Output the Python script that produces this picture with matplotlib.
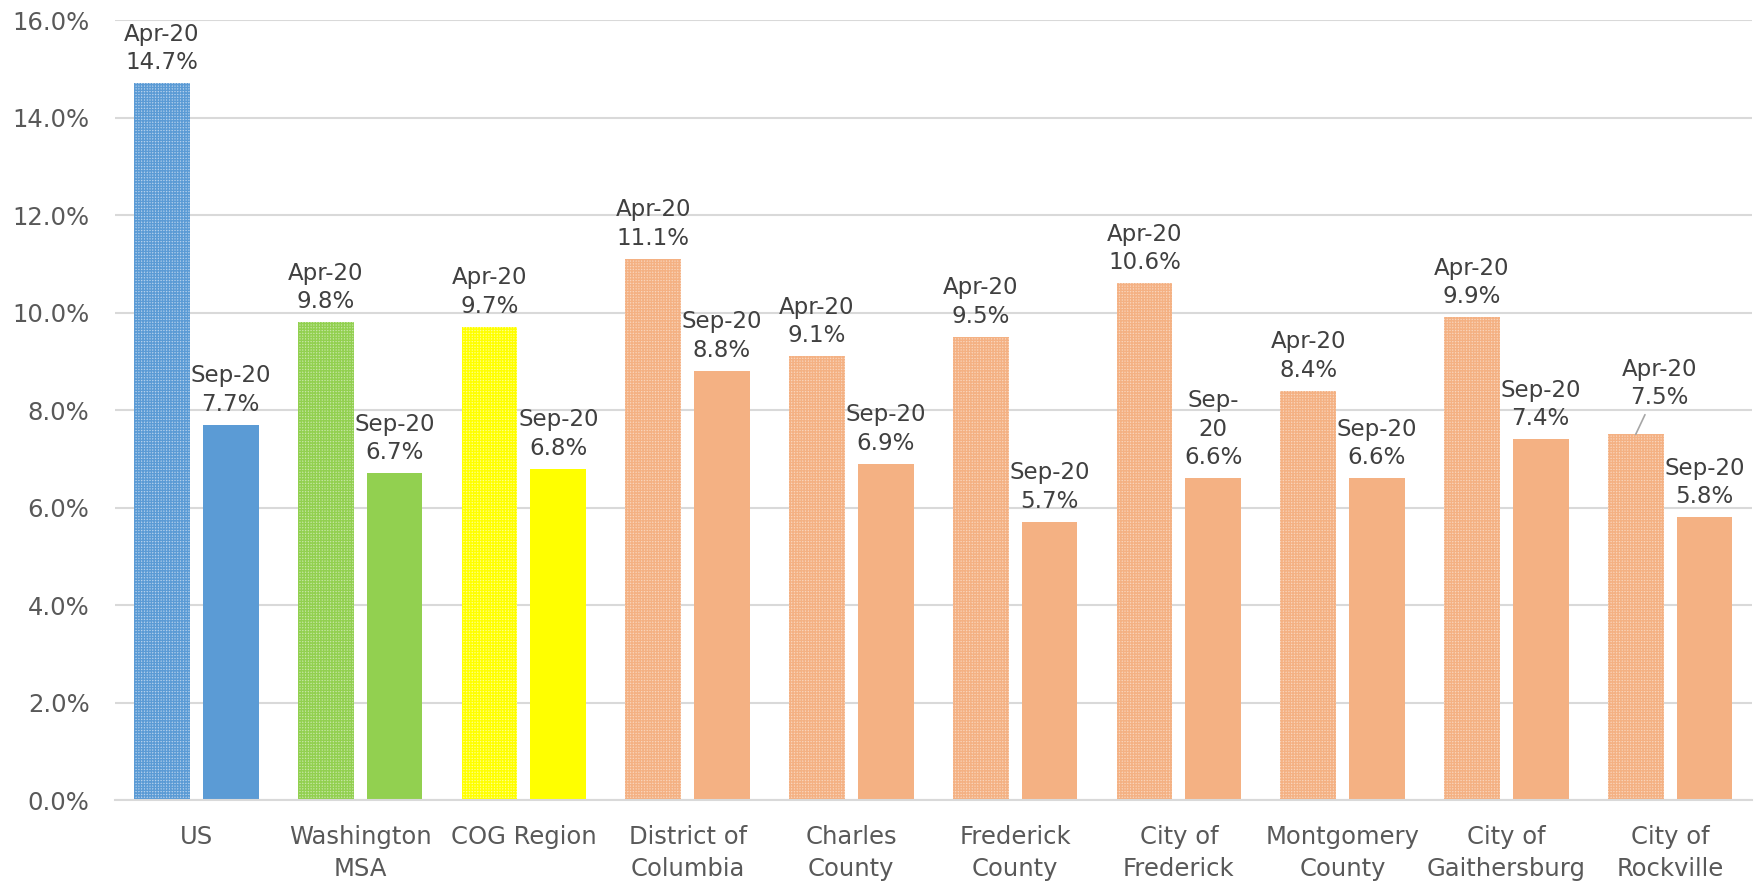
import matplotlib.pyplot as plt
import numpy as np

plt.rcParams['font.family'] = ['DejaVu Sans']
plt.rcParams['hatch.linewidth'] = 1.0

categories = ["US", "Washington\nMSA", "COG Region", "District of\nColumbia", "Charles\nCounty",
              "Frederick\nCounty", "City of\nFrederick", "Montgomery\nCounty", "City of\nGaithersburg",
              "City of\nRockville"]
apr = [14.7, 9.8, 9.7, 11.1, 9.1, 9.5, 10.6, 8.4, 9.9, 7.5]
sep = [7.7, 6.7, 6.8, 8.8, 6.9, 5.7, 6.6, 6.6, 7.4, 5.8]
colors = ["#5B9BD5", "#92D050", "#FFFF00"] + ["#F4B183"] * 7
tints = ["#B4D0EC", "#C6E6A4", "#FFFF90"] + ["#F9D5BC"] * 7

fig = plt.figure(figsize=(17.65, 8.85), dpi=100)
ax = fig.add_axes([0.0649, 0.0960, 0.9277, 0.8814])

x = np.arange(len(categories))
w = 0.34
off = 0.21
txt = "#404040"
fs = 16.5
ls = 1.32

for i in range(len(categories)):
    ax.bar(x[i] - off, apr[i], w, facecolor=tints[i], edgecolor=colors[i],
           hatch="++++++", linewidth=0, zorder=2)
    ax.bar(x[i] + off, sep[i], w, color=colors[i], linewidth=0, zorder=2)

# data labels
for i in range(len(categories)):
    if i == 9:
        ax.annotate("Apr-20\n{:.1f}%".format(apr[i]), (x[i] - off, apr[i]),
                    xytext=(24, 25), textcoords="offset pixels", ha="center", va="bottom",
                    fontsize=fs, color=txt, linespacing=ls,
                    arrowprops=dict(arrowstyle="-", color="#A6A6A6", lw=1.2, shrinkA=2, shrinkB=0))
    else:
        ax.annotate("Apr-20\n{:.1f}%".format(apr[i]), (x[i] - off, apr[i]),
                    xytext=(0, 9), textcoords="offset pixels", ha="center", va="bottom",
                    fontsize=fs, color=txt, linespacing=ls)
    s = "Sep-\n20\n{:.1f}%" if i == 6 else "Sep-20\n{:.1f}%"
    ax.annotate(s.format(sep[i]), (x[i] + off, sep[i]),
                xytext=(0, 9), textcoords="offset pixels", ha="center", va="bottom",
                fontsize=fs, color=txt, linespacing=ls)

ax.set_xlim(-0.5, len(categories) - 0.5)
ax.set_ylim(0, 16)
ax.set_yticks(np.arange(0, 16.1, 2))
ax.set_yticklabels(["{:.1f}%".format(v) for v in np.arange(0, 16.1, 2)], fontsize=17.5)
ax.set_xticks(x)
ax.set_xticklabels(categories, linespacing=1.4, fontsize=17.5)
ax.tick_params(axis="both", length=0, labelcolor="#595959")
ax.tick_params(axis="y", pad=18)
ax.tick_params(axis="x", pad=18)

ax.grid(axis="y", color="#D9D9D9", linewidth=1.5, zorder=0)
ax.set_axisbelow(True)
for s in ["top", "right", "left"]:
    ax.spines[s].set_visible(False)
ax.spines["bottom"].set_color("#D9D9D9")
ax.spines["bottom"].set_linewidth(1.5)

fig.savefig("out.png", dpi=100)
